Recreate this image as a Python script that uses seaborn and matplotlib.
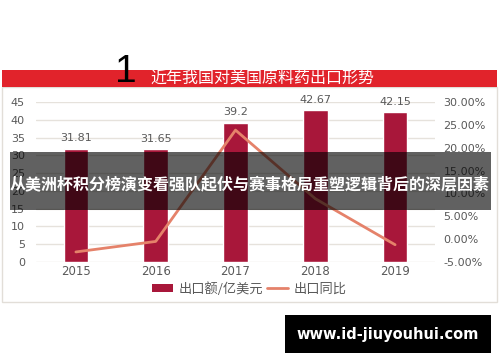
import matplotlib
matplotlib.use('Agg')
import matplotlib.pyplot as plt
import seaborn as sns
import numpy as np
import pandas as pd
from matplotlib.patches import Rectangle, Patch
from matplotlib.lines import Line2D

# ---- data ----
years = ['2015', '2016', '2017', '2018', '2019']
export_value = [31.81, 31.65, 39.2, 42.67, 42.15]
export_yoy = [-2.8, -0.5, 23.85, 8.85, -1.22]
left_ticks = [0, 5, 10, 15, 20, 25, 30, 35, 40, 45]
right_ticks = [-5, 0, 5, 10, 15, 20, 25, 30]
right_tick_labels = ['-5.00%', '0.00%', '5.00%', '10.00%', '15.00%', '20.00%', '25.00%', '30.00%']
bar_labels = ['31.81', '31.65', '39.2', '42.67', '42.15']
title = '近年我国对美国原料药出口形势'
banner = '从美洲杯积分榜演变看强队起伏与赛事格局重塑逻辑背后的深层因素'
url = 'www.id-jiuyouhui.com'
legend_labels = ['出口额/亿美元', '出口同比']

sns.set_theme(style='white')
plt.rcParams['font.family'] = ['DejaVu Sans', 'Noto Sans CJK SC']

W, H = 500, 362
fig = plt.figure(figsize=(5, 3.62), dpi=100)
fig.patch.set_facecolor('white')


def fx(px):
    return px / W


def fy(py):
    return 1 - py / H


BAR_C = '#A8173A'
LINE_C = '#E5826A'
TXT_C = '#595959'
CJK = ['Noto Sans CJK SC', 'DejaVu Sans']

# chart frame and red title bar
fig.patches.append(Rectangle((fx(2), fy(302)), fx(495), (302 - 87) / H, transform=fig.transFigure,
                             facecolor='white', edgecolor='#E2DED8', lw=1, zorder=-5))
fig.patches.append(Rectangle((fx(2), fy(87)), fx(495), 17 / H, transform=fig.transFigure,
                             facecolor='#E1232B', edgecolor='none', zorder=1))

ax = fig.add_axes([fx(36), fy(262), fx(399), 160 / H])
ax.patch.set_alpha(0)
df = pd.DataFrame({'year': years, 'value': export_value})
sns.barplot(data=df, x='year', y='value', color=BAR_C, width=0.31, saturation=1, ax=ax, zorder=3)
ax.bar_label(ax.containers[0], labels=bar_labels, padding=4, fontsize=8, color=TXT_C)
ax.set_ylim(0, 45)
ax.set_yticks(left_ticks)
ax.set_xlim(-0.5, 4.5)
ax.yaxis.grid(True, color='#E6E2DC', lw=1)
ax.set_axisbelow(True)
ax.set_xlabel('')
ax.set_ylabel('')
ax.tick_params(axis='y', length=0, pad=8, labelsize=8, labelcolor=TXT_C)
ax.tick_params(axis='x', length=0, pad=2, labelsize=8.5, labelcolor=TXT_C)
for s in ax.spines.values():
    s.set_visible(False)

ax2 = ax.twinx()
sns.lineplot(x=np.arange(len(years)), y=export_yoy, ax=ax2, color=LINE_C, lw=2, zorder=4)
ax2.set_ylim(-5, 30)
ax2.set_yticks(right_ticks)
ax2.set_yticklabels(right_tick_labels)
ax2.set_xlim(-0.5, 4.5)
ax2.grid(False)
ax2.set_ylabel('')
ax2.tick_params(axis='y', length=0, pad=6, labelsize=8, labelcolor=TXT_C)
for s in ax2.spines.values():
    s.set_visible(False)

handles = [Patch(facecolor=BAR_C, edgecolor='none'), Line2D([0], [0], color=LINE_C, lw=2)]
fig.legend(handles, legend_labels, loc='center', bbox_to_anchor=(fx(249), fy(289)), ncol=2,
           frameon=False, prop={'family': CJK, 'size': 9.5}, labelcolor=TXT_C,
           handlelength=1.6, handleheight=0.6, columnspacing=0.3, handletextpad=0.4)

# big "1" and title
fig.text(fx(126), fy(82), '1', ha='center', va='baseline', fontsize=28,
         family='Liberation Sans', color='black', zorder=5)
fig.text(fx(150), fy(79), title, ha='left', va='center', color='white', fontsize=11.5,
         family=CJK, zorder=5)

# dark banner
fig.patches.append(Rectangle((fx(10), fy(210)), fx(481), 58 / H, transform=fig.transFigure,
                             facecolor='black', alpha=0.62, edgecolor='none', zorder=10))
fig.text(fx(250), fy(184), banner, ha='center', va='center', color='white', fontsize=11.5,
         fontweight='bold', family=CJK, zorder=11)

# url box
fig.patches.append(Rectangle((fx(285), fy(353)), fx(206), 38 / H, transform=fig.transFigure,
                             facecolor='black', edgecolor='none', zorder=10))
fig.text(fx(388), fy(335), url, ha='center', va='center', color='white', fontsize=10.5,
         fontweight='bold', family='DejaVu Sans', zorder=11)

fig.savefig('out.png', dpi=100)
